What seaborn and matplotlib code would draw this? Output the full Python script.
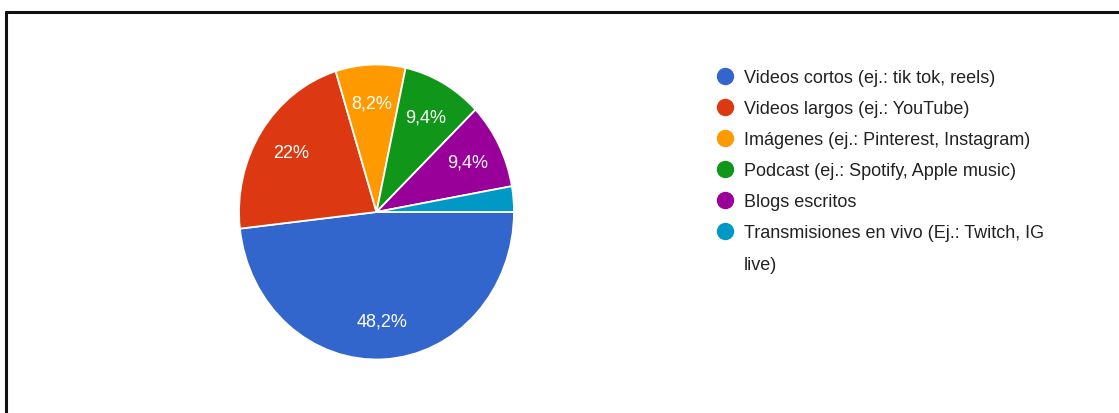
import matplotlib
matplotlib.use("Agg")
import matplotlib.pyplot as plt
from matplotlib.lines import Line2D
import seaborn as sns

# Survey answers: preferred content format
categories = [
    "Videos cortos (ej.: tik tok, reels)",
    "Videos largos (ej.: YouTube)",
    "Imágenes (ej.: Pinterest, Instagram)",
    "Podcast (ej.: Spotify, Apple music)",
    "Blogs escritos",
    "Transmisiones en vivo (Ej.: Twitch, IG live)",
]
shares = [48.2, 22.0, 8.2, 9.4, 9.4, 2.8]
colors = ["#3366cc", "#dc3912", "#ff9900", "#109618", "#990099", "#0099c6"]

sns.set_theme(style="white")
plt.rcParams["font.family"] = ["Liberation Sans", "DejaVu Sans"]

W, H = 1119, 414
fig = plt.figure(figsize=(W / 100, H / 100), dpi=100)
fig.patch.set_facecolor("white")

# pie axes placed in pixel terms (slightly taller than wide)
cx, cy, rx, ry = 376.5, 213, 137.5, 147.5
ax = fig.add_axes([(cx - rx) / W, (H - cy - ry) / H, 2 * rx / W, 2 * ry / H])


def pct_label(p):
    if p < 5:
        return ""
    s = f"{p:.1f}"
    if s.endswith(".0"):
        s = s[:-2]
    return s.replace(".", ",") + "%"


wedges, _, autotexts = ax.pie(
    shares,
    colors=colors,
    startangle=0,
    counterclock=False,
    autopct=pct_label,
    pctdistance=0.74,
    wedgeprops=dict(edgecolor="white", linewidth=1.3),
    textprops=dict(color="white", fontsize=13),
)
ax.set_aspect("auto")
ax.set_xlim(-1, 1)
ax.set_ylim(-1, 1)
ax.axis("off")

# legend; the long last label wraps onto a second row
handles = [
    Line2D([], [], marker="o", linestyle="none", markersize=11.5,
           markerfacecolor=c, markeredgecolor=c)
    for c in colors
]
labels = categories[:5] + ["Transmisiones en vivo (Ej.: Twitch, IG"]
handles.append(Line2D([], [], linestyle="none"))
labels.append("live)")
leg = fig.legend(
    handles, labels,
    loc="upper left",
    bbox_to_anchor=(716 / W, 1 - 70 / H),
    frameon=False,
    fontsize=13,
    handlelength=1.0,
    handletextpad=0.55,
    labelspacing=0.78,
    borderpad=0,
    borderaxespad=0,
)
for t in leg.get_texts():
    t.set_color("#222222")

# frame lines along the top and left edges
fig.add_artist(Line2D([6 / W, 1], [1 - 13 / H, 1 - 13 / H],
                      transform=fig.transFigure, color="#111111", linewidth=2.2))
fig.add_artist(Line2D([6 / W, 6 / W], [0, 1 - 13 / H],
                      transform=fig.transFigure, color="#111111", linewidth=2.2))

fig.savefig("out.png", dpi=100, facecolor="white")
